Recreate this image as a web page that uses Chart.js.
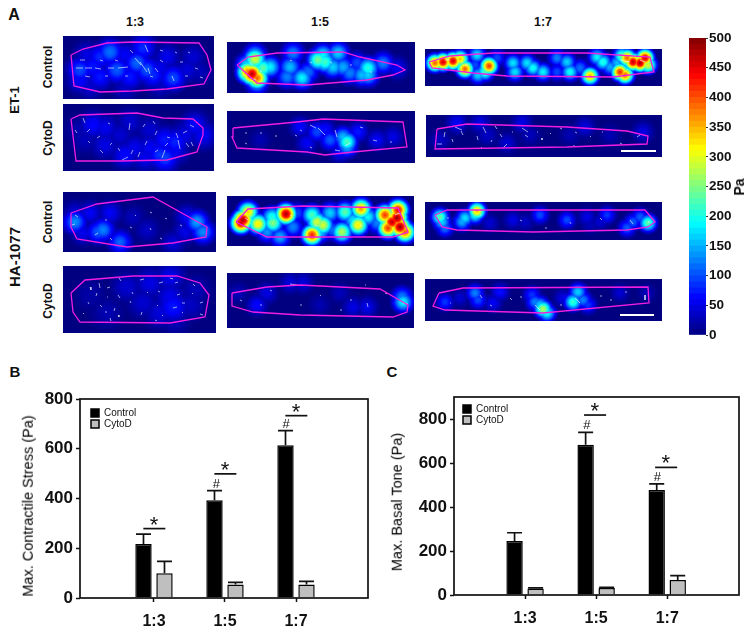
<!DOCTYPE html>
<html>
<head>
<meta charset="utf-8">
<title>Contractile stress</title>
<script src="https://cdn.jsdelivr.net/npm/chart.js@4/dist/chart.umd.min.js"></script>
<style>
html, body { margin: 0; padding: 0; background: #fff; }
#page { position: relative; width: 754px; height: 635px; overflow: hidden; font-family: "Liberation Sans", Arial, sans-serif; color: #111; }
#page canvas { position: absolute; }
.t { position: absolute; font-weight: bold; white-space: nowrap; transform: translate(-50%, -50%); line-height: 1; }
.r { transform: translate(-50%, -50%) rotate(-90deg); }
.n { font-weight: normal; color: #000; }
</style>
</head>
<body>
<div id="page"></div>
<script>
// Bar chart data
const ratios = ['1:3', '1:5', '1:7'];
const ratioPos = [1, 2, 3];

const stressControl = [217, 393, 614];
const stressControlTop = [257, 432, 673];
const stressCytoD = [100, 54, 54];
const stressCytoDTop = [147, 63, 67];
const stressSigPos = [1, 2, 3];
const stressSigY = [279, 499, 733];
const stressHashPos = [1.88, 2.86];
const stressHashY = [462, 703];

const toneControl = [245, 683, 477];
const toneControlTop = [283, 739, 505];
const toneCytoD = [30, 32, 68];
const toneCytoDTop = [32, 35, 88];
const toneSigPos = [1.98, 2.98];
const toneSigY = [818, 580];
const toneHashPos = [1.87, 2.86];
const toneHashY = [777, 542];

// Colour bar
const colorLevels = [0,10,20,30,40,50,60,70,80,90,100,110,120,130,140,150,160,170,180,190,200,210,220,230,240,
  250,260,270,280,290,300,310,320,330,340,350,360,370,380,390,400,410,420,430,440,450,460,470,480,490];

// Stress maps: x, y (position on the picture), Pa
const et13cField = [[110,52,120],[143,48,85],[80,70,100],[100,57,85],[117,70,110],[137,63,115],[147,70,105],[153,75,85],[173,78,100],[100,77,75],[93,67,75],[130,77,75],[80,80,65],[167,57,55],[187,70,45],[193,57,40],[87,55,50],[125,55,60],[160,68,55],[200,72,30],[125,88,35],[160,85,35],[90,87,40]];
const et13cOutline = [[71,55],[83,49],[107,43],[133,42],[199,43],[207,55],[211,70],[204,84],[167,89],[133,91],[100,92],[74,86],[71,55]];
const et13cArrows = [[76,68,83,68],[85,68,92,68],[95,68,101,69],[108,68,114,68],[118,68,128,67],[135,58,141,65],[140,62,147,72],[148,68,150,74],[155,68,158,72],[172,76,174,81],[80,60,85,60],[100,60,103,61],[115,60,118,61],[130,50,133,53],[145,45,148,52],[160,50,163,51],[175,52,177,53],[188,52,190,53],[85,76,90,77],[105,76,108,76],[125,76,128,76],[150,76,153,77],[185,76,188,76],[200,77,203,78],[160,60,163,62],[180,62,183,62],[195,68,198,69]];

const et13dField = [[93,125,65],[105,128,55],[130,122,40],[105,145,50],[125,155,65],[135,148,55],[165,140,75],[175,142,80],[160,155,90],[165,158,95],[150,148,60],[185,135,50],[195,125,65],[203,135,60],[175,150,60],[85,140,30],[120,135,40],[150,130,40],[80,130,25],[145,158,55]];
const et13dOutline = [[71,119],[80,115],[137,113],[163,118],[193,119],[203,128],[203,135],[197,152],[167,160],[120,161],[76,161],[71,119]];
const et13dArrows = [[83,118,85,123],[90,129,87,132],[100,136,97,138],[130,123,129,130],[145,124,143,127],[153,121,155,124],[110,124,108,123],[88,141,90,143],[112,143,110,145],[147,141,145,145],[133,150,131,154],[165,146,168,143],[158,150,155,152],[165,150,162,158],[183,133,187,131],[186,143,189,147],[178,140,180,149],[122,160,128,157],[140,152,138,157],[170,138,167,137],[155,135,157,131],[176,133,178,138],[191,142,193,146],[118,148,120,151],[100,150,103,153],[190,125,194,127],[75,130,77,133]];

const et15cField = [[252,74,480],[248,72,390],[257,78,400],[255,59,300],[247,65,180],[263,68,240],[270,67,190],[257,83,160],[255,55,170],[293,53,130],[290,67,160],[302,78,190],[287,77,130],[318,60,250],[325,62,225],[323,55,190],[338,53,170],[333,67,170],[343,67,150],[350,73,130],[362,75,160],[368,68,210],[368,75,170],[383,63,130],[308,72,120],[357,63,100],[397,68,60],[293,77,100]];
const et15cOutline = [[237,65],[248,57],[277,53],[343,52],[360,57],[397,65],[405,70],[393,75],[367,80],[307,85],[257,83],[237,65]];
const et15cArrows = [[250,62,252,65],[260,70,262,72],[290,60,292,61],[310,62,312,63],[330,62,332,63],[350,65,352,65],[370,72,372,72],[250,78,256,80]];

const et15dField = [[347,142,230],[343,137,160],[347,147,150],[317,132,100],[300,127,65],[330,140,110],[358,132,75],[377,140,60],[307,143,60],[393,137,50],[340,152,65],[260,140,25],[325,130,70]];
const et15dOutline = [[233,128],[297,122],[323,119],[403,122],[407,147],[353,152],[325,155],[307,152],[237,148],[232,137],[233,128]];
const et15dArrows = [[245,133,247,133],[260,133,262,133],[275,136,277,136],[295,135,297,136],[310,125,316,128],[318,128,325,135],[335,130,337,137],[350,143,345,146],[360,127,363,128],[373,140,377,141],[390,142,392,142],[245,143,247,144],[310,147,312,148],[335,150,340,151],[300,130,302,131]];

const et17cField = [[443,62,470],[453,61,470],[435,63,400],[460,59,350],[465,69,400],[489,66,420],[477,55,180],[485,72,230],[475,65,100],[478,75,170],[513,63,180],[515,72,180],[527,63,180],[533,68,200],[543,72,190],[567,62,170],[570,72,200],[590,76,360],[597,57,190],[603,62,210],[610,67,150],[620,72,430],[625,75,400],[627,58,400],[633,62,480],[640,63,490],[645,58,470],[648,65,300],[622,56,250],[580,68,120],[497,58,100],[557,58,130],[617,63,160],[557,72,100]];
const et17cOutline = [[429,62],[450,56],[493,53],[587,53],[650,57],[654,72],[613,77],[507,76],[473,73],[432,68],[429,62]];
const et17cArrows = [[445,60,450,60],[465,65,468,65],[620,60,630,62],[640,60,645,62]];

const et17dField = [[457,123,60],[480,123,50],[522,123,50],[585,127,45],[643,132,50],[440,140,35],[507,143,40],[487,135,35],[530,135,30],[610,135,25],[570,135,25]];
const et17dOutline = [[437,129],[467,124],[567,127],[627,131],[648,136],[647,144],[567,147],[435,149],[437,129]];
const et17dArrows = [[455,127,462,130],[483,127,486,133],[495,126,497,129],[522,128,528,132],[525,135,528,137],[445,132,444,137],[461,131,463,135],[437,144,442,144],[452,139,453,142],[477,136,478,140],[500,134,502,137],[507,144,503,148],[482,147,480,149],[512,132,513,132],[537,132,538,132],[542,138,542,140],[560,128,562,129],[575,132,577,133],[590,136,591,137],[602,132,603,132],[620,143,622,144],[640,135,637,137],[492,140,491,142],[550,133,551,134],[573,146,575,146]];
const et17dScaleBar = [[621,151,656,151]];

const ha13cField = [[75,222,135],[103,230,130],[98,232,110],[120,242,115],[197,222,145],[203,232,135],[90,213,60],[110,213,60],[83,233,55],[147,230,35],[173,243,45],[187,217,60],[133,217,30],[97,223,25],[75,212,40],[185,232,50]];
const ha13cOutline = [[71,213],[97,204],[153,197],[207,227],[206,237],[173,243],[127,247],[77,239],[71,227],[71,213]];
const ha13cArrows = [[75,215,78,217],[105,220,107,220],[135,215,136,216],[150,212,152,213],[165,218,167,219],[130,227,132,228],[150,228,151,230],[180,225,182,226],[95,235,98,233],[110,238,112,240],[75,224,72,225],[160,238,162,239]];

const ha13dField = [[127,287,40],[150,283,50],[170,277,55],[173,307,75],[160,313,45],[170,297,55],[143,303,40],[107,313,25],[195,290,30],[190,305,35],[90,295,20],[175,320,30]];
const ha13dOutline = [[71,293],[85,280],[133,276],[177,276],[200,283],[209,295],[205,317],[170,323],[80,322],[73,312],[71,293]];
const ha13dArrows = [[99,283,100,288],[110,287,107,288],[119,278,121,281],[140,280,144,279],[159,283,163,282],[170,278,173,279],[175,283,178,282],[193,284,195,286],[90,287,91,290],[97,293,96,296],[107,297,108,297],[118,295,120,298],[132,292,133,294],[147,292,148,293],[158,291,160,292],[177,295,180,294],[192,294,193,293],[88,302,89,304],[100,305,102,307],[115,308,114,311],[130,301,131,303],[142,312,141,315],[157,305,158,306],[173,308,177,307],[182,303,185,303],[200,303,203,302],[83,313,84,314],[105,312,107,312],[118,315,119,317],[162,315,163,316],[182,312,183,313],[200,314,203,315],[110,318,111,321],[155,320,157,321]];

const ha15cField = [[243,220,490],[241,223,470],[248,212,340],[258,224,330],[273,223,260],[272,217,210],[286,214,490],[293,227,130],[312,235,430],[312,215,230],[317,222,300],[323,225,300],[342,232,280],[345,212,240],[353,220,180],[358,225,330],[361,209,370],[368,217,190],[385,215,420],[388,228,420],[397,218,500],[398,210,450],[400,227,500],[405,232,400],[392,222,480],[280,237,150],[297,213,100],[330,213,170],[377,223,130],[333,230,120],[267,232,140],[320,232,170]];
const ha15cOutline = [[236,222],[248,209],[303,206],[398,208],[408,232],[393,237],[267,237],[236,222]];
const ha15cArrows = [[245,218,248,220],[290,215,292,216],[315,225,317,226],[360,225,362,226],[395,215,400,213]];

const ha15dField = [[403,302,190],[402,297,130],[257,305,65],[267,293,50],[290,283,45],[303,283,45],[353,307,50],[367,307,55],[340,293,30],[238,293,30],[320,305,25]];
const ha15dOutline = [[232,293],[267,287],[300,285],[380,289],[408,305],[407,312],[393,317],[300,315],[253,312],[232,306],[232,293]];
const ha15dArrows = [[240,300,242,301],[270,290,272,291],[290,284,297,285],[320,295,321,296],[350,300,352,300],[367,303,368,307],[385,293,387,294],[403,303,408,304],[260,305,262,305],[300,305,302,305],[340,310,342,310],[365,285,366,285]];

const ha17cField = [[440,217,240],[442,222,170],[477,211,350],[475,215,200],[465,218,180],[445,228,120],[462,222,150],[540,215,100],[567,220,100],[607,215,90],[640,217,110],[648,223,240],[627,228,110],[633,222,110],[490,223,40],[513,220,50],[587,217,50],[590,225,30],[525,222,35],[600,222,40]];
const ha17cOutline = [[435,215],[447,210],[645,210],[655,222],[648,227],[627,230],[533,232],[457,230],[442,227],[435,215]];
const ha17cArrows = [[447,218,449,218],[480,215,481,215],[520,220,522,221],[545,228,547,228],[570,222,571,224],[600,218,602,220],[630,220,633,224],[648,222,650,222]];

const ha17dField = [[543,309,280],[540,305,170],[535,302,130],[532,295,90],[547,313,200],[573,302,220],[578,292,170],[583,300,130],[588,305,90],[475,293,130],[478,300,100],[445,302,90],[500,292,70],[493,303,60],[620,293,40],[647,293,30],[563,298,50],[460,298,40]];
const ha17dOutline = [[439,293],[463,288],[648,287],[649,303],[543,313],[445,310],[433,306],[439,293]];
const ha17dArrows = [[450,303,451,303],[480,295,482,298],[510,298,512,300],[535,305,540,310],[575,298,580,303],[520,297,522,297],[600,296,602,296],[625,292,627,292],[645,295,645,300],[490,305,492,306],[560,305,562,305],[610,300,612,300]];
const ha17dScaleBar = [[620,315,654,315]];

Chart.defaults.font.family = '"Liberation Sans", Arial, sans-serif';
Chart.defaults.color = '#111';
Chart.defaults.animation = false;
Chart.defaults.responsive = false;
Chart.defaults.events = [];

const page = document.getElementById('page');

function addCanvas(x, y, w, h) {
  const c = document.createElement('canvas');
  c.width = w;
  c.height = h;
  c.style.left = x + 'px';
  c.style.top = y + 'px';
  c.style.width = w + 'px';
  c.style.height = h + 'px';
  page.appendChild(c);
  return c;
}

function addText(text, x, y, size, rotated, plain) {
  const d = document.createElement('div');
  d.className = 't' + (rotated ? ' r' : '') + (plain ? ' n' : '');
  d.textContent = text;
  d.style.left = x + 'px';
  d.style.top = y + 'px';
  d.style.fontSize = size + 'px';
  page.appendChild(d);
}

// jet colour map, 0-500 Pa
function jetRgb(pa) {
  const v = Math.min(1, Math.max(0, pa / 500));
  const c = (o) => Math.round(255 * Math.min(1, Math.max(0, 1.5 - Math.abs(4 * v - o))));
  return [c(3), c(2), c(1)];
}

function jet(pa) {
  return 'rgb(' + jetRgb(pa).join(',') + ')';
}

function grey(pa) {
  const g = Math.round(pa * 255 / 500);
  return 'rgb(' + g + ',' + g + ',' + g + ')';
}

function segments(list) {
  const pts = [];
  list.forEach((s) => {
    pts.push({ x: s[0], y: s[1] }, { x: s[2], y: s[3] }, { x: null, y: null });
  });
  return pts;
}

// Field points go down as grey levels keeping the highest, then grey is turned into jet
const fieldShading = {
  id: 'fieldShading',
  beforeDraw(chart) {
    const a = chart.chartArea;
    chart.ctx.fillStyle = '#000';
    chart.ctx.fillRect(a.left, a.top, a.right - a.left, a.bottom - a.top);
  },
  beforeDatasetDraw(chart, args) {
    if (args.index === 0) chart.ctx.globalCompositeOperation = 'lighten';
  },
  afterDatasetDraw(chart, args) {
    if (args.index !== 0) return;
    const ctx = chart.ctx;
    ctx.globalCompositeOperation = 'source-over';
    const w = chart.canvas.width;
    const h = chart.canvas.height;
    const img = ctx.getImageData(0, 0, w, h);
    for (let i = 0; i < img.data.length; i += 4) {
      const rgb = jetRgb(img.data[i] * 500 / 255);
      img.data[i] = rgb[0];
      img.data[i + 1] = rgb[1];
      img.data[i + 2] = rgb[2];
      img.data[i + 3] = 255;
    }
    ctx.putImageData(img, 0, 0);
  }
};

function stressMap(box, field, outline, arrows, radius, scaleBar) {
  const sets = [
    {
      data: field.map((p) => ({ x: p[0], y: p[1], pa: p[2] })),
      order: 4,
      pointRadius: radius,
      pointBorderWidth: 0,
      pointBackgroundColor(ctx) {
        const raw = ctx.raw;
        if (!raw) return 'transparent';
        const px = ctx.chart.scales.x.getPixelForValue(raw.x);
        const py = ctx.chart.scales.y.getPixelForValue(raw.y);
        // scales are not fitted yet on the first pass
        if (!isFinite(px) || !isFinite(py)) return 'transparent';
        const g = ctx.chart.ctx.createRadialGradient(px, py, 0, px, py, radius);
        g.addColorStop(0, grey(raw.pa));
        g.addColorStop(0.25, grey(raw.pa * 0.86));
        g.addColorStop(0.5, grey(raw.pa * 0.55));
        g.addColorStop(0.75, grey(raw.pa * 0.22));
        g.addColorStop(1, '#000');
        return g;
      }
    },
    {
      data: segments(arrows),
      order: 3,
      showLine: true,
      spanGaps: false,
      pointRadius: 0,
      borderColor: 'rgba(235,235,255,0.75)',
      borderWidth: 0.9
    },
    {
      data: outline.map((p) => ({ x: p[0], y: p[1] })),
      order: 2,
      showLine: true,
      pointRadius: 0,
      borderColor: '#f01ee0',
      borderWidth: 1.3
    }
  ];
  if (scaleBar) {
    sets.push({
      data: segments(scaleBar),
      order: 1,
      showLine: true,
      spanGaps: false,
      pointRadius: 0,
      borderColor: '#fff',
      borderWidth: 2
    });
  }
  new Chart(addCanvas(box[0], box[1], box[2], box[3]), {
    type: 'scatter',
    data: { datasets: sets },
    plugins: [fieldShading],
    options: {
      layout: { padding: 0, autoPadding: false },
      plugins: { legend: { display: false }, tooltip: { enabled: false } },
      scales: {
        x: { display: false, type: 'linear', min: box[0], max: box[0] + box[2] },
        y: { display: false, type: 'linear', reverse: true, min: box[1], max: box[1] + box[3] }
      }
    }
  });
}

stressMap([63, 36, 151, 63], et13cField, et13cOutline, et13cArrows, 18);
stressMap([63, 104, 151, 67], et13dField, et13dOutline, et13dArrows, 19);
stressMap([227, 42, 188, 51], et15cField, et15cOutline, et15cArrows, 15);
stressMap([227, 111, 188, 52], et15dField, et15dOutline, et15dArrows, 14);
stressMap([425, 49, 237, 37], et17cField, et17cOutline, et17cArrows, 12);
stressMap([426, 115, 236, 42], et17dField, et17dOutline, et17dArrows, 14, et17dScaleBar);
stressMap([63, 192, 153, 60], ha13cField, ha13cOutline, ha13cArrows, 16);
stressMap([63, 266, 153, 67], ha13dField, ha13dOutline, ha13dArrows, 21);
stressMap([227, 196, 187, 50], ha15cField, ha15cOutline, ha15cArrows, 14);
stressMap([227, 273, 187, 55], ha15dField, ha15dOutline, ha15dArrows, 14);
stressMap([425, 202, 237, 38], ha17cField, ha17cOutline, ha17cArrows, 12);
stressMap([425, 279, 237, 42], ha17dField, ha17dOutline, ha17dArrows, 12, ha17dScaleBar);

// Colour bar as one stacked bar
new Chart(addCanvas(680, 20, 74, 330), {
  type: 'bar',
  data: {
    labels: [''],
    datasets: colorLevels.map((lvl) => ({
      data: [10],
      backgroundColor: jet(lvl + 5),
      borderWidth: 0,
      barPercentage: 1,
      categoryPercentage: 1
    }))
  },
  options: {
    layout: { padding: { left: 9, top: 18, bottom: 15 } },
    plugins: { legend: { display: false }, tooltip: { enabled: false } },
    scales: {
      x: { stacked: true, display: false },
      y: {
        stacked: true,
        position: 'right',
        min: 0,
        max: 500,
        afterFit(scale) { scale.width = 48; },
        border: { display: false },
        grid: { drawOnChartArea: false, tickLength: 2, tickColor: '#333' },
        ticks: { stepSize: 50, padding: 1, font: { size: 13.5, weight: 'bold' } }
      }
    }
  }
});

// Frame, error bars, significance marks
const barExtras = {
  id: 'barExtras',
  afterDatasetsDraw(chart, args, opts) {
    const ctx = chart.ctx;
    const a = chart.chartArea;
    const sx = chart.scales.x;
    const sy = chart.scales.y;
    ctx.save();
    ctx.strokeStyle = '#111';
    ctx.fillStyle = '#111';
    ctx.lineWidth = 1.7;
    ctx.strokeRect(a.left, a.top, a.right - a.left, a.bottom - a.top);
    opts.tops.forEach((tops, i) => {
      chart.getDatasetMeta(i).data.forEach((bar, j) => {
        const y = sy.getPixelForValue(tops[j]);
        ctx.beginPath();
        ctx.moveTo(bar.x, bar.y);
        ctx.lineTo(bar.x, y);
        ctx.moveTo(bar.x - 7.5, y);
        ctx.lineTo(bar.x + 7.5, y);
        ctx.stroke();
      });
    });
    ctx.textAlign = 'center';
    ctx.textBaseline = 'alphabetic';
    opts.sigPos.forEach((p, i) => {
      const y = sy.getPixelForValue(opts.sigY[i]);
      ctx.beginPath();
      ctx.moveTo(sx.getPixelForValue(p - 0.15), y);
      ctx.lineTo(sx.getPixelForValue(p + 0.16), y);
      ctx.stroke();
      ctx.font = '22px "Liberation Sans", Arial';
      ctx.fillText('*', sx.getPixelForValue(p), y + 3);
    });
    opts.hashPos.forEach((p, i) => {
      ctx.font = '13px "Liberation Sans", Arial';
      ctx.fillText('#', sx.getPixelForValue(p), sy.getPixelForValue(opts.hashY[i]) + 5);
    });
    ctx.restore();
  }
};

const moveLegend = {
  id: 'moveLegend',
  afterLayout(chart, args, opts) {
    chart.legend.left += opts.dx;
    chart.legend.top += opts.dy;
  }
};

function barChart(box, s) {
  new Chart(addCanvas(box[0], box[1], box[2], box[3]), {
    type: 'bar',
    data: {
      datasets: [
        {
          label: 'Control',
          data: ratioPos.map((x, i) => ({ x: x, y: s.control[i] })),
          backgroundColor: '#000',
          borderColor: '#000',
          borderWidth: 1.5,
          categoryPercentage: 42 / 71,
          barPercentage: 0.78
        },
        {
          label: 'CytoD',
          data: ratioPos.map((x, i) => ({ x: x, y: s.cytoD[i] })),
          backgroundColor: '#bfbfbf',
          borderColor: '#000',
          borderWidth: 1.5,
          categoryPercentage: 42 / 71,
          barPercentage: 0.78
        }
      ]
    },
    plugins: [barExtras, moveLegend],
    options: {
      layout: { padding: s.padding },
      plugins: {
        tooltip: { enabled: false },
        legend: {
          position: 'chartArea',
          align: 'start',
          labels: { boxWidth: 8, boxHeight: 8, padding: 1, color: '#111', font: { size: 10 } }
        },
        moveLegend: s.legendShift,
        barExtras: {
          tops: [s.controlTop, s.cytoDTop],
          sigPos: s.sigPos,
          sigY: s.sigY,
          hashPos: s.hashPos,
          hashY: s.hashY
        }
      },
      scales: {
        x: {
          type: 'linear',
          min: s.xMin,
          max: s.xMax,
          offset: false,
          afterBuildTicks(scale) { scale.ticks = ratioPos.map((v) => ({ value: v })); },
          afterFit(scale) { scale.height = s.xHeight; },
          border: { display: false },
          grid: { offset: false, drawOnChartArea: false, tickLength: 4, tickColor: '#111', tickWidth: 1.5 },
          ticks: {
            padding: 10,
            maxRotation: 0,
            autoSkip: false,
            font: { size: 16, weight: 'bold' },
            callback(v) { return ratios[v - 1]; }
          }
        },
        y: {
          min: 0,
          max: s.yMax,
          afterFit(scale) { scale.width = s.yWidth; },
          border: { display: false },
          grid: { drawOnChartArea: false, tickLength: 4, tickColor: '#111', tickWidth: 1.5 },
          ticks: { stepSize: 200, includeBounds: false, padding: 3, font: { size: 17, weight: 'bold' } }
        }
      }
    }
  });
}

barChart([0, 380, 380, 255], {
  control: stressControl, controlTop: stressControlTop, cytoD: stressCytoD, cytoDTop: stressCytoDTop,
  sigPos: stressSigPos, sigY: stressSigY, hashPos: stressHashPos, hashY: stressHashY,
  padding: { top: 19, right: 12 }, xMin: -0.042, xMax: 4.014, yMax: 800, xHeight: 37, yWidth: 80,
  legendShift: { dx: 10, dy: 27 }
});

barChart([380, 380, 374, 255], {
  control: toneControl, controlTop: toneControlTop, cytoD: toneCytoD, cytoDTop: toneCytoDTop,
  sigPos: toneSigPos, sigY: toneSigY, hashPos: toneHashPos, hashY: toneHashY,
  padding: { top: 17, right: 15 }, xMin: 0, xMax: 4.01, yMax: 900, xHeight: 40, yWidth: 74,
  legendShift: { dx: 8, dy: 23 }
});

// Labels
addText('A', 14, 15, 16);
addText('B', 15, 371, 15);
addText('C', 392, 371, 15);
addText('1:3', 135, 22, 12.5);
addText('1:5', 320, 22, 12.5);
addText('1:7', 543, 22, 12.5);
addText('Control', 48, 67, 12, true);
addText('CytoD', 48, 138, 12, true);
addText('Control', 48, 222, 12, true);
addText('CytoD', 48, 301, 12, true);
addText('ET-1', 14, 100, 13, true);
addText('HA-1077', 14, 257, 15, true);
addText('Pa', 739, 187, 14, true);
addText('Max. Contractile Stress (Pa)', 28, 506, 14.5, true, true);
addText('Max. Basal Tone (Pa)', 397, 502, 14.5, true, true);
</script>
</body>
</html>
